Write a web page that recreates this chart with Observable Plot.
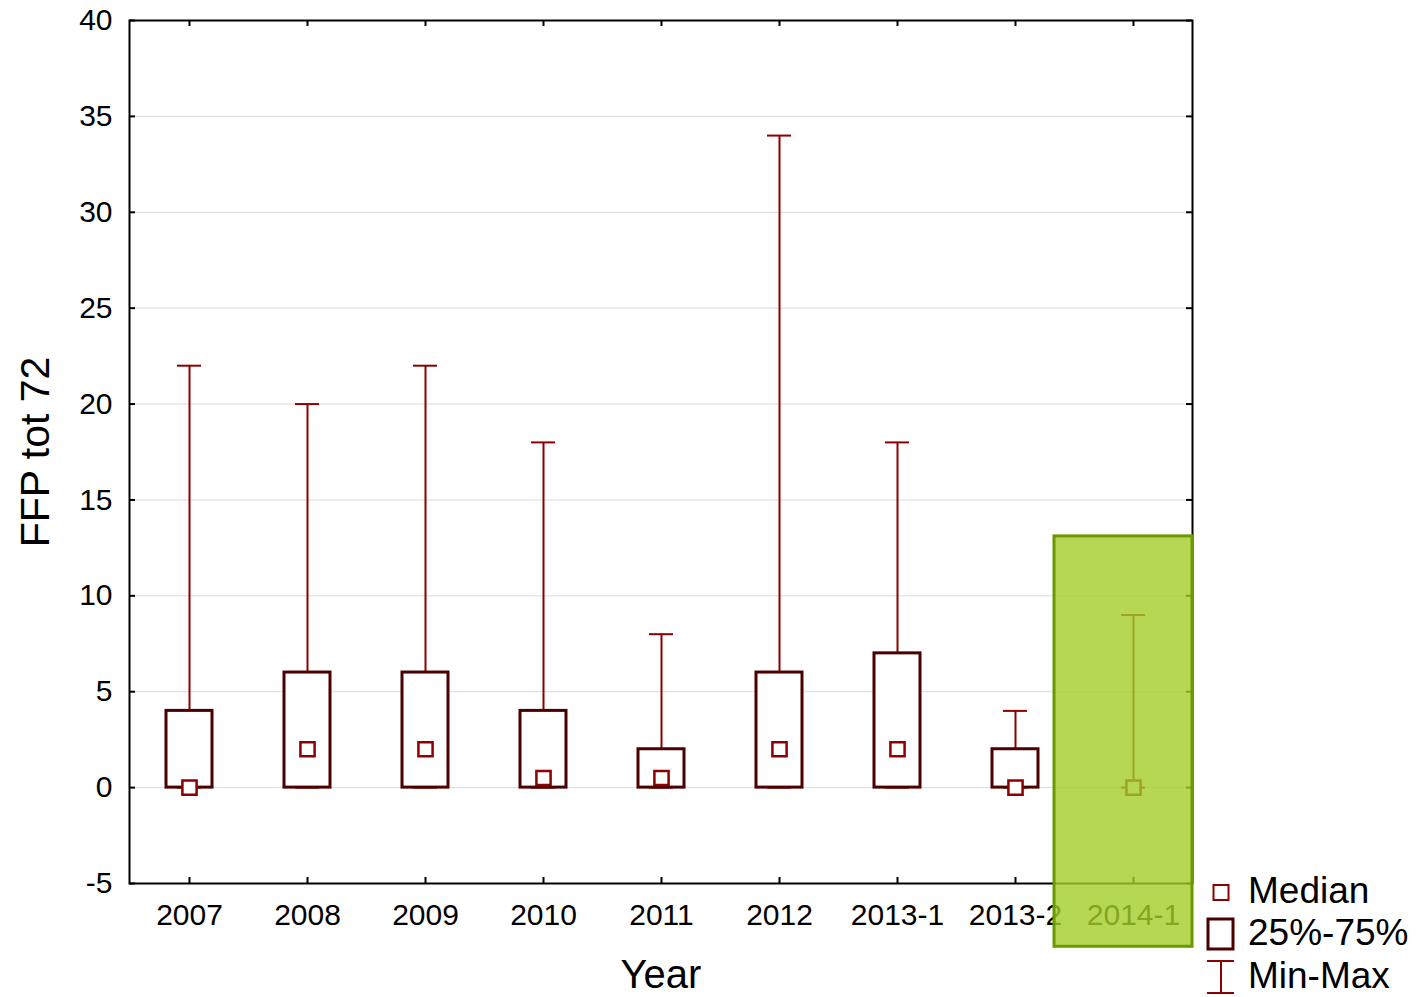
<!DOCTYPE html>
<html>
<head>
<meta charset="utf-8">
<script src="https://cdn.jsdelivr.net/npm/d3@7"></script>
<script src="https://cdn.jsdelivr.net/npm/@observablehq/plot@0.6"></script>
<style>
  html, body { margin: 0; padding: 0; background: #fff; }
  #wrap { position: relative; width: 1420px; height: 997px; font-family: "Liberation Sans", Arial, sans-serif; }
  #legend { position: absolute; left: 0; top: 0; }
</style>
</head>
<body>
<div id="wrap"></div>
<script>
// FFP tot 72 by year: min, quartiles, max and median
const categories = ["2007", "2008", "2009", "2010", "2011", "2012", "2013-1", "2013-2", "2014-1"];
const minValues    = [0, 0, 0, 0, 0, 0, 0, 0, 0];
const q1Values     = [0, 0, 0, 0, 0, 0, 0, 0, 0];
const q3Values     = [4, 6, 6, 4, 2, 6, 7, 2, 0];
const maxValues    = [22, 20, 22, 18, 8, 34, 18, 4, 9];
const medianValues = [0, 2, 2, 0.5, 0.5, 2, 2, 0, 0];
const yTicks = [-5, 0, 5, 10, 15, 20, 25, 30, 35, 40];

// highlighted group and its vertical extent (in y units)
const highlightCategory = "2014-1";
const highlightRange = [-8.3, 13.1];

const legendLabels = ["Median", "25%-75%", "Min-Max"];

const rows = categories.map((c, i) => ({
  cat: c, min: minValues[i], q1: q1Values[i], q3: q3Values[i], max: maxValues[i], median: medianValues[i]
}));

const W = 1420, H = 997;
const mL = 129, mR = 228, mT = 20, mB = 114;
const frameW = W - mL - mR, frameH = H - mT - mB;

const whisker = "#8b0000", boxStroke = "#4a0000";

const chart = Plot.plot({
  width: W, height: H,
  marginLeft: mL, marginRight: mR, marginTop: mT, marginBottom: mB,
  style: { fontFamily: "Liberation Sans, Arial, sans-serif", color: "#000", background: "#fff" },
  x: { type: "band", domain: categories, padding: 0 },
  y: { domain: [-5, 40] },
  marks: [
    Plot.ruleY(yTicks.filter(d => d > -5 && d < 40), { y: d => d, stroke: "#dcdcdc", strokeWidth: 1 }),
    Plot.axisY({ ticks: yTicks, tickSize: 0, tickPadding: 17, fontSize: 30, tickFormat: d => String(d), label: null }),
    Plot.axisX({ tickSize: 0, tickPadding: 20, fontSize: 30, label: null }),
    // whiskers
    Plot.ruleX(rows, { x: "cat", y1: "q3", y2: "max", stroke: whisker, strokeWidth: 2 }),
    Plot.ruleX(rows, { x: "cat", y1: "min", y2: "q1", stroke: whisker, strokeWidth: 2 }),
    Plot.tickY(rows, { x: "cat", y: "max", insetLeft: 47, insetRight: 47, stroke: whisker, strokeWidth: 2 }),
    Plot.tickY(rows, { x: "cat", y: "min", insetLeft: 47, insetRight: 47, stroke: whisker, strokeWidth: 2 }),
    // interquartile boxes
    Plot.barY(rows.filter(d => d.q3 > d.q1), { x: "cat", y1: "q1", y2: "q3", insetLeft: 36, insetRight: 36, fill: "white", stroke: boxStroke, strokeWidth: 3 }),
    // medians
    Plot.dot(rows, { x: "cat", y: "median", symbol: "square", r: 8, fill: "white", stroke: whisker, strokeWidth: 2.5 }),
    // frame and inward ticks
    Plot.frame({ stroke: "black", strokeWidth: 2 }),
    Plot.tickY(yTicks, { y: d => d, insetRight: frameW - 6, stroke: "black", strokeWidth: 2 }),
    Plot.tickY(yTicks, { y: d => d, insetLeft: frameW - 6, stroke: "black", strokeWidth: 2 }),
    Plot.tickX(categories, { x: d => d, insetBottom: frameH - 6, stroke: "black", strokeWidth: 2 }),
    Plot.tickX(categories, { x: d => d, insetTop: frameH - 6, stroke: "black", strokeWidth: 2 }),
    // axis titles
    Plot.text(["FFP tot 72"], { frameAnchor: "left", textAnchor: "middle", lineAnchor: "middle", rotate: -90, dx: -94, fontSize: 41, fill: "black" }),
    Plot.text(["Year"], { frameAnchor: "bottom", textAnchor: "middle", lineAnchor: "bottom", dy: 104, fontSize: 40, fill: "black" }),
    // highlighted group
    Plot.barY([{ cat: highlightCategory, y1: highlightRange[0], y2: highlightRange[1] }],
      { x: "cat", y1: "y1", y2: "y2", insetLeft: -20, insetRight: 0,
        fill: "rgb(163,205,40)", fillOpacity: 0.8, stroke: "#6b9a00", strokeWidth: 3 })
  ]
});

const wrap = document.getElementById("wrap");
wrap.appendChild(chart);

// legend in the lower-right margin
const svg = d3.select(wrap).append("svg")
  .attr("id", "legend").attr("width", W).attr("height", H)
  .style("font-family", "Liberation Sans, Arial, sans-serif");
const lx = 1221;
svg.append("rect").attr("x", lx - 7.5).attr("y", 885).attr("width", 15).attr("height", 15)
  .attr("fill", "white").attr("stroke", whisker).attr("stroke-width", 2);
svg.append("rect").attr("x", 1208).attr("y", 919).attr("width", 25).attr("height", 30)
  .attr("fill", "white").attr("stroke", boxStroke).attr("stroke-width", 3);
svg.append("line").attr("x1", lx).attr("x2", lx).attr("y1", 961).attr("y2", 993).attr("stroke", whisker).attr("stroke-width", 2);
svg.append("line").attr("x1", 1207).attr("x2", 1234).attr("y1", 961).attr("y2", 961).attr("stroke", whisker).attr("stroke-width", 2);
svg.append("line").attr("x1", 1207).attr("x2", 1234).attr("y1", 993).attr("y2", 993).attr("stroke", whisker).attr("stroke-width", 2);
const baselines = [903, 945, 988];
legendLabels.forEach((t, i) => {
  svg.append("text").attr("x", 1248).attr("y", baselines[i]).attr("font-size", 37).attr("fill", "black").text(t);
});
</script>
</body>
</html>
